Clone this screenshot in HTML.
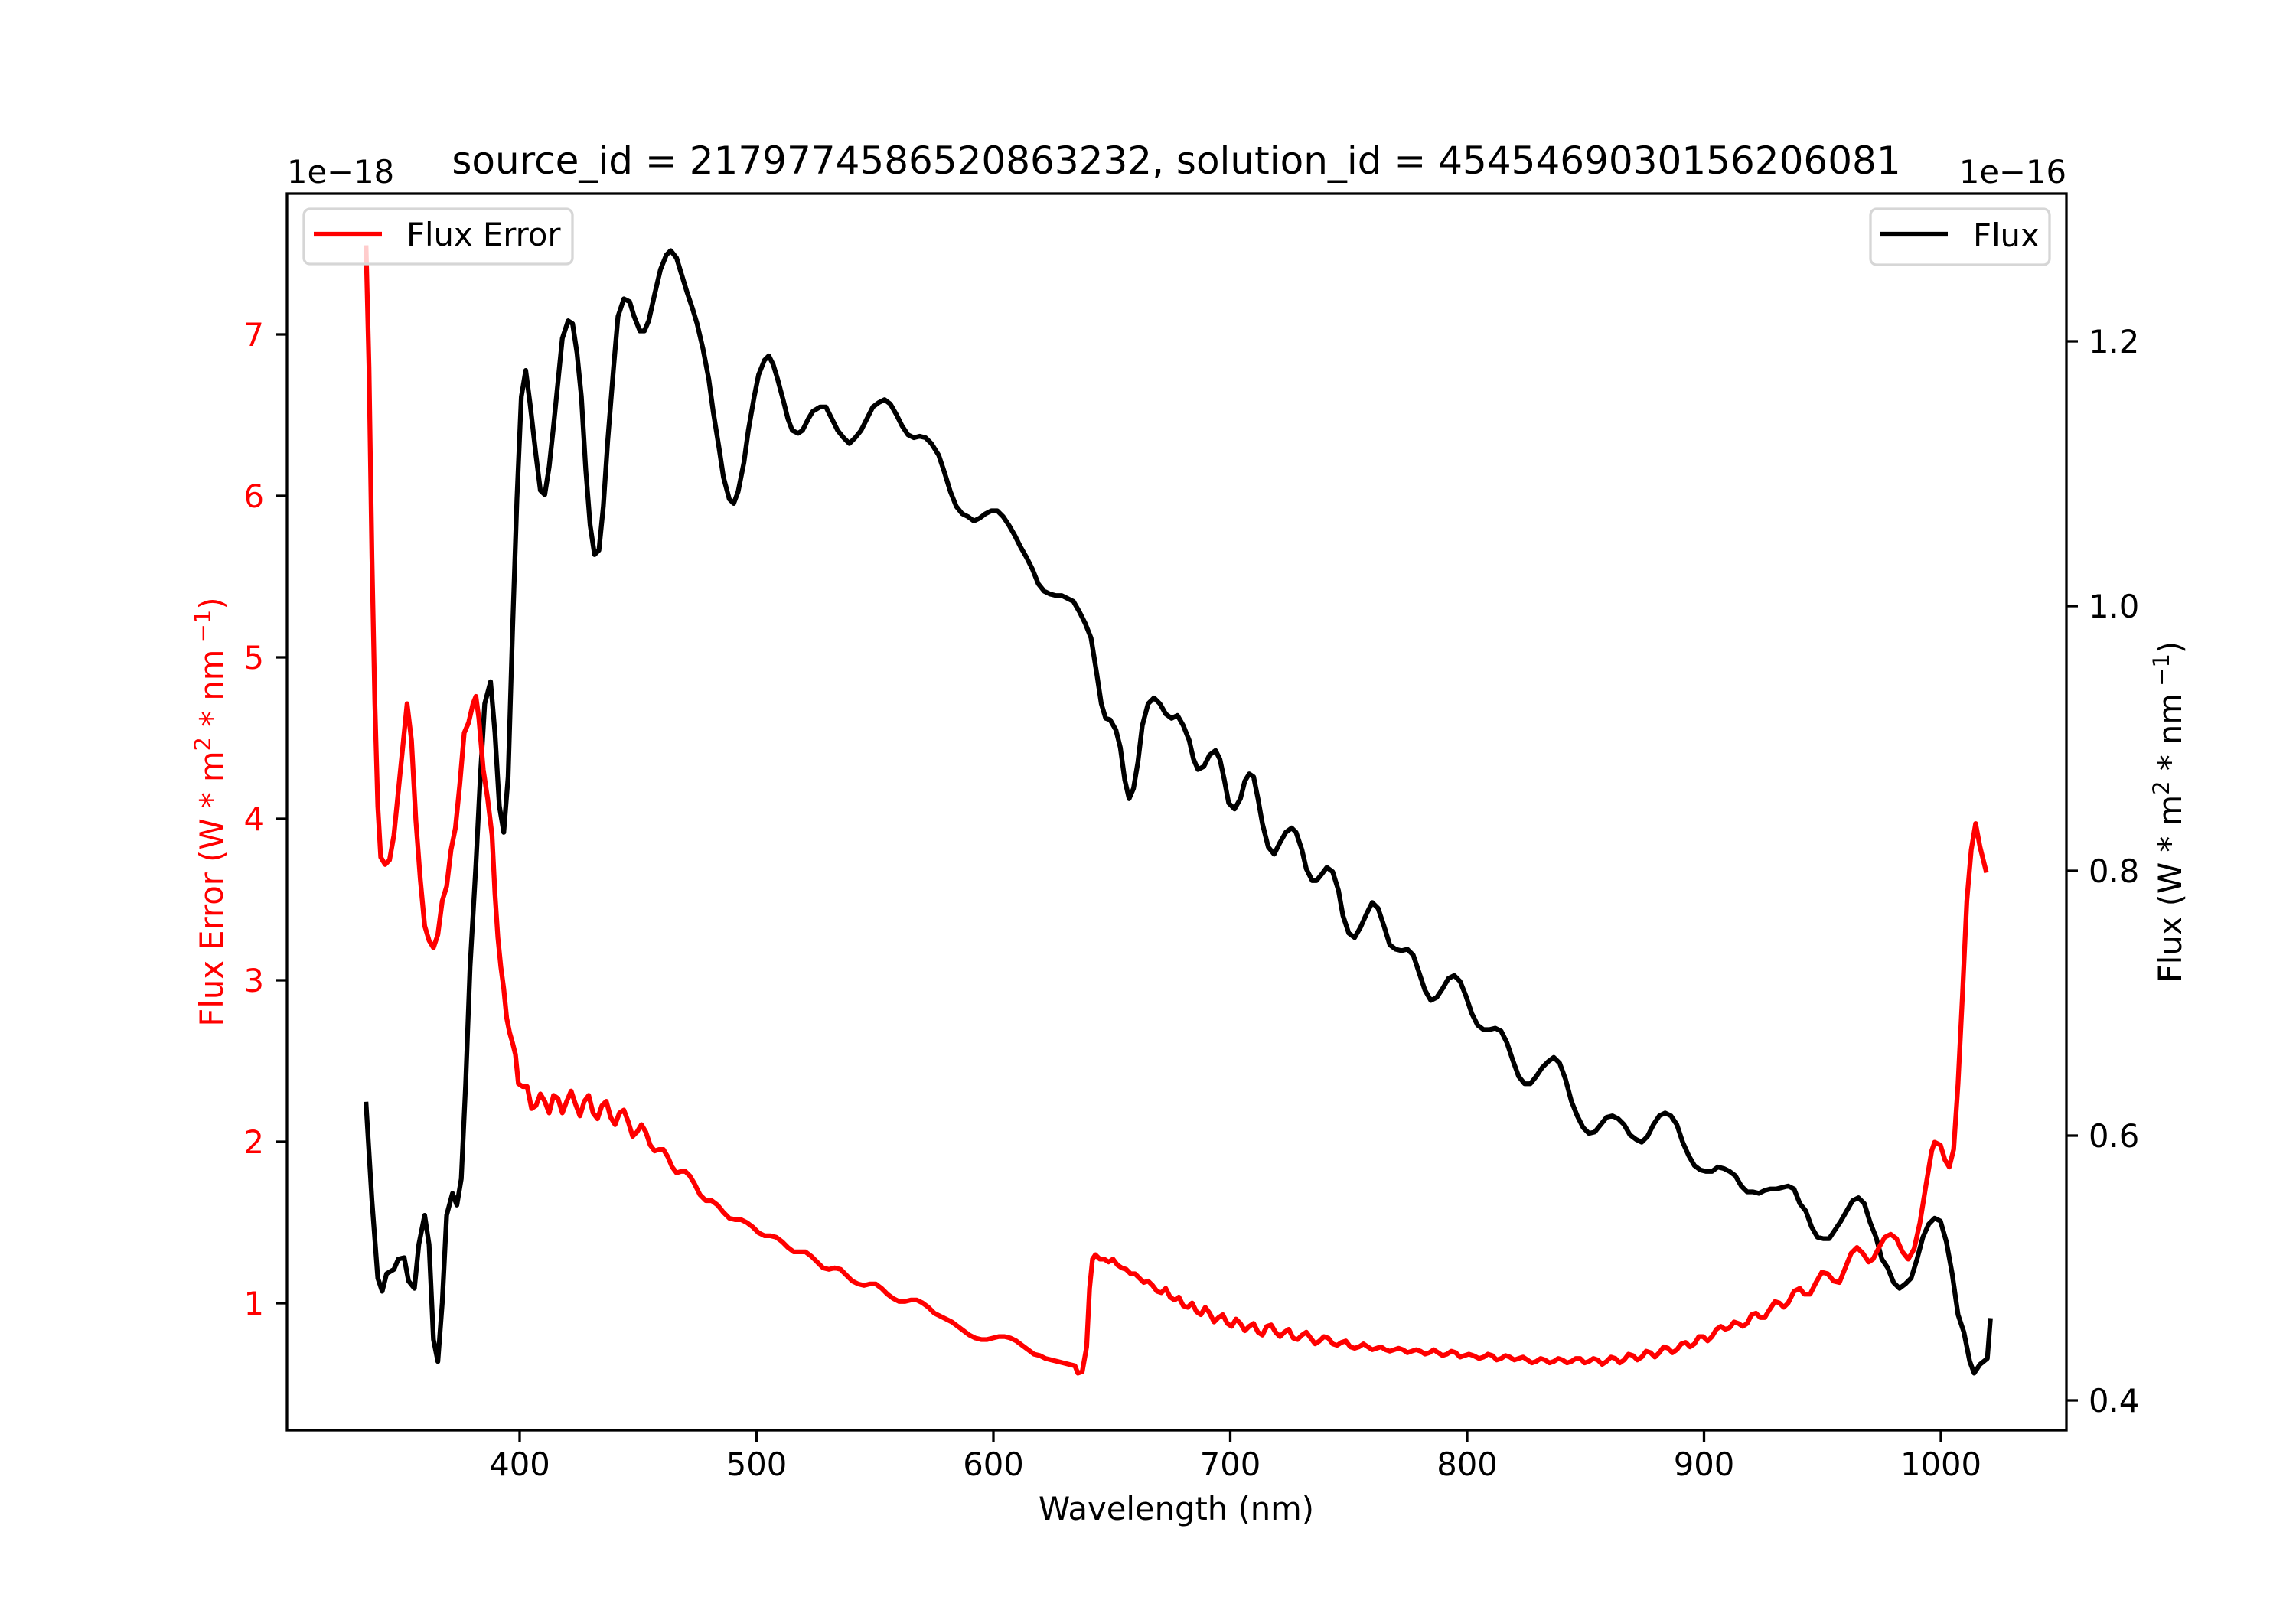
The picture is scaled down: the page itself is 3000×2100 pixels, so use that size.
<!DOCTYPE html>
<html><head><meta charset="utf-8"><style>
html,body{margin:0;padding:0;background:#fff;}
svg{display:block;}
text{font-family:"DejaVu Sans","Liberation Sans",sans-serif;}
</style></head><body>
<svg width="3000" height="2100" viewBox="0 0 3000 2100" xmlns="http://www.w3.org/2000/svg">
<rect width="3000" height="2100" fill="#fff"/>
<g transform="translate(375,253) scale(1.9136,1.910) translate(-196,-131)" fill="none" stroke-linejoin="round" stroke-linecap="square">
<polyline stroke="#000" stroke-width="6.25" vector-effect="non-scaling-stroke" points="250,754 254,820 258,873 261,882 264,870 269,867 272,860 276,859 279,875 283,880 286,850 290,830 293,850 296,915 299,930 302,890 305,830 309,815 312,823 315,805 318,740 321,660 325,590 328,530 331,480 335,465 338,500 341,550 344,568 347,530 350,430 353,340 356,270 359,252 362,275 366,310 369,334 372,337 375,318 378,290 381,260 384,230 388,218 391,220 394,240 397,270 400,320 403,358 406,378 409,375 412,345 415,300 419,250 422,215 426,203 430,205 433,215 437,225 440,225 443,218 447,200 451,183 455,173 458,170 462,175 465,185 469,198 473,210 476,220 480,237 484,258 487,280 491,305 494,325 498,340 501,343 504,335 508,315 511,293 515,270 518,255 522,245 525,242 528,248 531,258 535,273 538,285 541,293 545,295 548,293 552,285 555,280 560,277 564,277 568,285 572,293 576,298 580,302 584,298 588,293 592,285 596,277 600,274 604,272 608,275 612,282 616,290 620,296 624,298 628,297 632,298 636,302 641,310 645,322 649,335 653,345 657,350 661,352 665,355 669,353 673,350 677,348 681,348 685,352 689,358 693,365 697,373 701,380 705,388 709,398 713,403 717,405 721,406 725,406 729,408 733,410 737,417 741,425 745,435 749,460 752,480 755,490 758,491 762,498 765,510 768,532 771,545 774,538 777,520 780,495 784,480 788,476 792,480 796,487 800,490 804,488 808,495 812,505 815,518 818,525 822,523 826,515 830,512 833,518 836,532 839,548 843,552 847,545 850,533 853,528 856,530 859,545 862,562 866,578 870,583 874,575 878,568 882,565 885,568 889,580 892,593 896,601 899,601 903,596 906,592 910,595 914,608 917,625 921,637 925,640 929,633 933,624 937,616 941,620 945,632 949,645 953,648 957,649 961,648 965,652 969,664 973,676 977,683 981,681 985,675 989,668 993,666 997,670 1001,680 1005,692 1009,700 1013,703 1017,703 1021,702 1025,704 1029,712 1033,724 1037,735 1041,740 1045,740 1049,735 1053,729 1057,725 1061,722 1065,726 1069,737 1073,752 1077,762 1081,770 1085,774 1089,773 1093,768 1097,763 1101,762 1105,764 1109,768 1113,775 1117,778 1121,780 1125,776 1129,768 1133,762 1137,760 1141,762 1145,768 1149,780 1153,789 1157,796 1161,799 1165,800 1169,800 1173,797 1177,798 1181,800 1185,803 1189,810 1193,814 1197,814 1201,815 1205,813 1209,812 1213,812 1217,811 1221,810 1225,812 1229,822 1233,827 1237,838 1241,845 1245,846 1249,846 1253,840 1257,834 1261,827 1265,820 1269,818 1273,822 1277,835 1281,845 1285,860 1289,866 1293,876 1297,880 1301,877 1305,873 1309,860 1313,845 1317,836 1321,832 1325,834 1329,848 1333,870 1337,898 1341,910 1345,930 1348,938 1352,932 1357,928 1359,902"/>
<polyline stroke="#ff0000" stroke-width="6.25" vector-effect="non-scaling-stroke" points="250,168 252,250 254,380 256,480 258,550 260,585 263,590 266,587 269,570 272,540 275,510 278,480 281,505 284,560 287,600 290,632 293,642 296,647 299,638 302,615 305,605 308,580 311,565 314,535 317,500 320,493 323,480 325,475 327,490 330,525 333,545 336,570 338,610 340,640 342,660 344,675 346,695 348,705 350,712 352,720 354,740 357,742 360,742 363,757 366,755 369,747 372,752 375,760 378,748 381,750 384,760 387,752 390,745 393,754 396,762 399,752 402,748 405,760 408,764 411,755 414,752 417,763 420,768 423,760 426,758 429,766 432,776 435,773 438,768 441,773 444,782 447,786 450,785 453,785 456,790 459,797 462,801 465,800 468,800 471,803 474,808 478,816 482,820 486,820 490,823 494,828 498,832 502,833 506,833 510,835 514,838 518,842 522,844 526,844 530,845 534,848 538,852 542,855 546,855 550,855 554,858 558,862 562,866 566,867 570,866 574,867 578,871 582,875 586,877 590,878 594,877 598,877 602,880 606,884 610,887 614,889 618,889 622,888 626,888 630,890 634,893 638,897 642,899 646,901 650,903 654,906 658,909 662,912 666,914 670,915 674,915 678,914 682,913 686,913 690,914 694,916 698,919 702,922 706,925 710,926 714,928 718,929 722,930 726,931 730,932 734,933 736,938 739,937 742,920 744,880 746,860 748,857 751,860 754,860 757,862 760,860 763,864 766,866 769,867 772,870 775,870 778,873 781,876 784,875 787,878 790,882 793,883 796,880 799,886 802,888 805,886 808,892 811,893 814,890 817,896 820,898 823,893 826,897 829,903 832,900 835,898 838,904 841,906 844,901 847,904 850,909 853,906 856,904 859,910 862,912 865,906 868,905 871,910 874,913 877,910 880,908 883,914 886,915 889,912 892,910 895,914 898,918 901,916 904,913 907,914 910,918 913,919 916,917 919,916 922,920 925,921 928,920 931,918 934,920 937,922 940,921 943,920 946,922 949,923 952,922 955,921 958,922 961,924 964,923 967,922 970,923 973,925 976,924 979,922 982,924 985,926 988,925 991,923 994,924 997,927 1000,926 1003,925 1006,926 1010,928 1013,927 1016,925 1019,926 1022,929 1025,928 1028,926 1031,927 1034,929 1037,928 1040,927 1043,929 1046,931 1049,930 1052,928 1055,929 1058,931 1061,930 1064,928 1067,929 1070,931 1073,930 1076,928 1079,928 1082,931 1085,930 1088,928 1091,929 1094,932 1097,930 1100,927 1103,928 1106,931 1109,929 1112,925 1115,926 1118,929 1121,927 1124,923 1127,924 1130,927 1133,924 1136,920 1139,921 1142,924 1145,922 1148,918 1151,917 1154,920 1157,918 1160,913 1163,913 1166,916 1169,913 1172,908 1175,906 1178,908 1181,907 1184,903 1187,904 1190,906 1193,904 1196,898 1199,897 1202,900 1205,900 1208,895 1212,889 1215,890 1218,893 1221,890 1225,882 1229,880 1232,884 1236,884 1240,876 1244,869 1248,870 1252,875 1256,876 1260,866 1264,856 1268,852 1272,856 1276,862 1279,860 1283,852 1287,845 1291,843 1295,846 1299,855 1303,860 1307,853 1311,835 1315,810 1319,786 1321,780 1325,782 1328,792 1331,797 1334,785 1337,740 1340,680 1343,615 1346,580 1349,562 1352,578 1356,594"/>
</g>
<rect x="375" y="253" width="2325" height="1616" fill="none" stroke="#000" stroke-width="3.3"/>
<g stroke="#000" stroke-width="3.3">
<line x1="679" y1="1869" x2="679" y2="1884"/>
<line x1="988.5" y1="1869" x2="988.5" y2="1884"/>
<line x1="1298" y1="1869" x2="1298" y2="1884"/>
<line x1="1607.5" y1="1869" x2="1607.5" y2="1884"/>
<line x1="1917" y1="1869" x2="1917" y2="1884"/>
<line x1="2226.5" y1="1869" x2="2226.5" y2="1884"/>
<line x1="2536" y1="1869" x2="2536" y2="1884"/>
<line x1="360" y1="1703" x2="375" y2="1703"/>
<line x1="360" y1="1492" x2="375" y2="1492"/>
<line x1="360" y1="1281" x2="375" y2="1281"/>
<line x1="360" y1="1070" x2="375" y2="1070"/>
<line x1="360" y1="859" x2="375" y2="859"/>
<line x1="360" y1="648" x2="375" y2="648"/>
<line x1="360" y1="437" x2="375" y2="437"/>
<line x1="2700" y1="1830" x2="2715" y2="1830"/>
<line x1="2700" y1="1484" x2="2715" y2="1484"/>
<line x1="2700" y1="1138" x2="2715" y2="1138"/>
<line x1="2700" y1="792" x2="2715" y2="792"/>
<line x1="2700" y1="446" x2="2715" y2="446"/>
</g>
<g font-size="41.7" fill="#000" text-anchor="middle">
<text x="679" y="1928">400</text>
<text x="988.5" y="1928">500</text>
<text x="1298" y="1928">600</text>
<text x="1607.5" y="1928">700</text>
<text x="1917" y="1928">800</text>
<text x="2226.5" y="1928">900</text>
<text x="2536" y="1928">1000</text>
</g>
<g font-size="41.7" fill="#ff0000" text-anchor="end">
<text x="345" y="1718">1</text>
<text x="345" y="1507">2</text>
<text x="345" y="1296">3</text>
<text x="345" y="1085">4</text>
<text x="345" y="874">5</text>
<text x="345" y="663">6</text>
<text x="345" y="452">7</text>
</g>
<g font-size="41.7" fill="#000">
<text x="2729" y="1845">0.4</text>
<text x="2729" y="1499">0.6</text>
<text x="2729" y="1153">0.8</text>
<text x="2729" y="807">1.0</text>
<text x="2729" y="461">1.2</text>
</g>
<text x="1537" y="227" font-size="50" text-anchor="middle">source_id = 2179774586520863232, solution_id = 4545469030156206081</text>
<text x="375" y="239" font-size="41.7">1e−18</text>
<text x="2700" y="239" font-size="41.7" text-anchor="end">1e−16</text>
<text x="1537" y="1986" font-size="41.7" text-anchor="middle">Wavelength (nm)</text>
<text transform="translate(291,1061) rotate(-90)" font-size="41.7" fill="#ff0000" text-anchor="middle">Flux Error (W * m<tspan font-size="29" dy="-16">2</tspan><tspan dy="16"> * nm</tspan><tspan font-size="29" dy="-16"> −1</tspan><tspan dy="16">)</tspan></text>
<text transform="translate(2850,1061) rotate(-90)" font-size="41.7" fill="#000" text-anchor="middle">Flux (W * m<tspan font-size="29" dy="-16">2</tspan><tspan dy="16"> * nm</tspan><tspan font-size="29" dy="-16"> −1</tspan><tspan dy="16">)</tspan></text>
<rect x="397" y="273" width="351" height="72" rx="8" fill="#fff" fill-opacity="0.8" stroke="#d6d6d6" stroke-width="3.3"/>
<line x1="410" y1="306" x2="499" y2="306" stroke="#ff0000" stroke-width="6.25"/>
<text x="531" y="321" font-size="41.7">Flux Error</text>
<rect x="2444" y="273" width="234" height="73" rx="8" fill="#fff" fill-opacity="0.8" stroke="#d6d6d6" stroke-width="3.3"/>
<line x1="2456" y1="306" x2="2545" y2="306" stroke="#000" stroke-width="6.25"/>
<text x="2578" y="322" font-size="41.7">Flux</text>
</svg>
</body></html>
